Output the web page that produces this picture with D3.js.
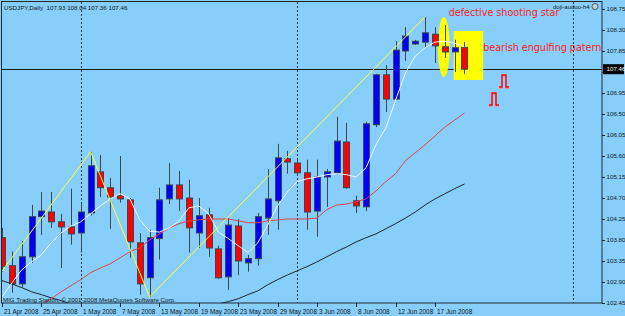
<!DOCTYPE html>
<html>
<head>
<meta charset="utf-8">
<script src="https://cdn.jsdelivr.net/npm/d3@7"></script>
<style>
  body { margin: 0; background: #87cefa; }
  svg { display: block; }
  text { font-family: "Liberation Sans", Arial, sans-serif; }
</style>
</head>
<body>
<div id="chart"></div>
<script>
// USDJPY daily candles, 21 Apr 2008 .. 20 Jun 2008 (bar index 0..47)
const opens  = [103.85,103.25,102.86,103.44,104.30,104.40,104.19,104.08,103.95,104.38,105.26,104.92,104.75,104.66,103.74,102.99,103.83,104.68,104.98,104.70,103.95,104.34,103.61,103.01,104.10,103.31,103.40,104.27,104.64,105.54,105.45,105.24,104.42,105.15,105.24,105.90,104.64,104.51,106.27,107.34,106.82,107.85,108.00,108.04,108.21,107.94,107.83,107.93];
const highs  = [104.06,103.55,103.78,104.55,104.83,104.83,104.36,104.90,104.60,105.69,105.62,105.13,105.60,104.70,103.95,104.02,104.92,105.45,105.28,105.09,104.70,104.49,103.68,104.27,104.25,103.48,104.38,105.32,105.86,105.71,105.52,105.52,105.52,105.32,106.44,106.31,104.75,106.33,107.36,107.55,108.06,108.36,108.09,108.58,108.36,108.41,108.09,108.04];
const lows   = [103.12,102.67,102.78,103.31,103.91,104.06,103.20,103.70,103.53,104.32,104.72,104.04,104.60,103.42,102.63,102.58,103.38,104.57,104.42,103.53,103.63,103.44,102.97,102.73,103.05,103.12,103.25,103.91,104.02,105.22,105.17,104.02,103.87,104.51,105.20,104.90,104.38,104.42,106.22,106.54,106.80,107.64,107.98,107.92,107.59,107.70,107.40,107.36];
const closes = [103.23,102.86,103.44,104.30,104.42,104.19,104.08,103.93,104.40,105.39,104.92,104.72,104.68,103.76,102.86,103.85,104.66,104.98,104.68,104.06,104.32,103.63,102.99,104.12,103.35,103.40,104.30,104.68,105.56,105.47,105.24,104.40,105.15,105.26,105.92,104.92,104.53,106.29,107.34,106.82,107.87,108.17,108.06,108.24,107.96,107.83,107.92,107.46];

// moving averages
const maFast = [102.58,102.88,103.16,103.33,103.48,103.74,103.95,104.10,104.19,104.36,104.53,104.68,104.79,104.68,104.23,103.99,103.97,104.06,104.21,104.49,104.53,104.36,103.97,103.83,103.68,103.53,103.74,104.12,104.53,104.83,105.05,105.11,105.15,105.20,105.22,105.20,105.15,105.35,105.84,106.20,106.80,107.38,107.74,107.92,108.04,108.06,108.02,107.94];
const maMid  = [101.90,102.03,102.16,102.28,102.41,102.54,102.69,102.82,102.95,103.10,103.20,103.29,103.42,103.55,103.63,103.80,103.93,104.06,104.15,104.21,104.23,104.25,104.25,104.25,104.21,104.17,104.17,104.21,104.23,104.25,104.25,104.25,104.27,104.45,104.55,104.57,104.62,104.68,104.85,105.05,105.22,105.50,105.67,105.84,106.03,106.22,106.37,106.52];
const maSlow = [102.93,102.86,102.78,102.69,102.63,102.56,102.50,102.43,102.37,102.33,102.28,102.26,102.24,102.22,102.22,102.22,102.24,102.26,102.28,102.31,102.35,102.39,102.43,102.48,102.54,102.63,102.71,102.84,102.95,103.05,103.14,103.23,103.33,103.44,103.55,103.65,103.76,103.85,103.93,104.04,104.15,104.27,104.40,104.55,104.68,104.79,104.90,105.00];

// zigzag turning points
const zigIdx   = [-4, 9, 15, 43];
const zigPrice = [102.00, 105.69, 102.58, 108.58];

// axes
const tickIdx    = [0, 4, 8, 12, 16, 20, 24, 28, 32, 36, 40, 44];
const tickLabels = ["21 Apr 2008","25 Apr 2008","1 May 2008","7 May 2008","13 May 2008","19 May 2008","23 May 2008","29 May 2008","3 Jun 2008","8 Jun 2008","12 Jun 2008","17 Jun 2008"];
const priceTicks = [108.75,108.30,107.85,107.40,106.95,106.50,106.05,105.60,105.15,104.70,104.25,103.80,103.35,102.90,102.45];
const separatorIdx = [8, 30, 58];
const lastPrice = 107.46;

// hand drawn objects
const noteText  = ["defective shooting star", "bearish engulfing patern"];
const noteIdx   = [45.4, 48.9];
const notePrice = [108.59, 107.85];
const arrowIdx   = [51, 50];
const arrowPrice = [107.21, 106.82];

const W = 625, H = 316;
const plotR = 602, plotB = 303;

const svg = d3.select("#chart").append("svg")
    .attr("width", W)
    .attr("height", H);

svg.append("rect").attr("width", W).attr("height", H).attr("fill", "#87cefa");

const x = d3.scaleLinear().domain([0, 47]).range([2, 2 + 9.84 * 47]);
const y = d3.scaleLinear().domain([102.45, 108.75]).range([303, 9]);

svg.append("clipPath").attr("id", "plot")
  .append("rect").attr("x", 1.5).attr("y", 1.5).attr("width", plotR - 1.5).attr("height", plotB - 1.5);

const g = svg.append("g").attr("clip-path", "url(#plot)");

// month separators
g.selectAll(".sep").data(separatorIdx).join("line")
    .attr("x1", d => Math.round(x(d)) + 0.5).attr("x2", d => Math.round(x(d)) + 0.5)
    .attr("y1", 2).attr("y2", plotB)
    .attr("stroke", "#2a3440").attr("stroke-dasharray", "2,2");

// last price line
g.append("line")
    .attr("x1", 1).attr("x2", plotR)
    .attr("y1", Math.round(y(lastPrice)) + 0.5).attr("y2", Math.round(y(lastPrice)) + 0.5)
    .attr("stroke", "#1a1a1a");

// yellow marks
g.append("ellipse")
    .attr("cx", (x(44.3) + x(45.5)) / 2).attr("cy", (y(107.29) + y(108.58)) / 2)
    .attr("rx", (x(45.5) - x(44.3)) / 2).attr("ry", (y(107.29) - y(108.58)) / 2)
    .attr("fill", "#ffff00");
g.append("rect")
    .attr("x", x(45.9)).attr("y", y(108.28))
    .attr("width", x(48.9) - x(45.9)).attr("height", y(107.23) - y(108.28))
    .attr("fill", "#ffff00");

// candles
const bars = d3.range(opens.length);
const wickColor = "#3d4650";
g.selectAll(".wick").data(bars).join("line")
    .attr("x1", i => Math.round(x(i)) + 0.5).attr("x2", i => Math.round(x(i)) + 0.5)
    .attr("y1", i => y(highs[i])).attr("y2", i => y(lows[i]))
    .attr("stroke", wickColor);
g.selectAll(".body").data(bars).join("rect")
    .attr("x", i => Math.round(x(i)) - 2.5)
    .attr("y", i => y(Math.max(opens[i], closes[i])))
    .attr("width", 6)
    .attr("height", i => Math.max(1, Math.abs(y(opens[i]) - y(closes[i]))))
    .attr("fill", i => closes[i] < opens[i] ? "#ff0000" : "#0000ff")
    .attr("stroke", wickColor);

// indicators
const line = arr => d3.line().x((d, i) => x(i)).y(d => y(d))(arr);
g.append("path").attr("d", line(maSlow)).attr("fill", "none").attr("stroke", "#1c2530");
g.append("path").attr("d", line(maMid)).attr("fill", "none").attr("stroke", "#e0404c");
g.append("path").attr("d", line(maFast)).attr("fill", "none").attr("stroke", "#f4f8ff");
g.append("path")
    .attr("d", d3.line().x((d, k) => x(zigIdx[k])).y(d => y(d))(zigPrice))
    .attr("fill", "none").attr("stroke", "#ffff30");

// red sell marks
arrowIdx.forEach((a, k) => {
  const cx = Math.round(x(a)), cy = Math.round(y(arrowPrice[k]));
  const p = `M${cx - 5},${cy + 6}H${cx - 2}V${cy - 6}H${cx + 2}V${cy + 6}H${cx + 5}`;
  g.append("path").attr("d", p).attr("transform", "translate(0,1.5)")
    .attr("fill", "none").attr("stroke", "#f09090").attr("stroke-width", 1.2);
  g.append("path").attr("d", p)
    .attr("fill", "none").attr("stroke", "#ff0000").attr("stroke-width", 1.4);
});

// notes
noteText.forEach((t, k) => {
  g.append("text").attr("x", x(noteIdx[k])).attr("y", y(notePrice[k]))
    .attr("fill", "#ff1a1a")
    .style("font-family", "'DejaVu Sans', Verdana, sans-serif")
    .style("font-size", "9.6px")
    .text(t);
});

// frame
svg.append("rect")
    .attr("x", 1.5).attr("y", 1.5).attr("width", plotR - 1.5).attr("height", plotB - 1.5)
    .attr("fill", "none").attr("stroke", "#1e2a36");

// price axis (labels hidden under the last price box are skipped, as the terminal does)
svg.selectAll(".ptick").data(priceTicks).join("line")
    .attr("x1", plotR).attr("x2", plotR + 3)
    .attr("y1", d => Math.round(y(d)) + 0.5).attr("y2", d => Math.round(y(d)) + 0.5)
    .attr("stroke", "#1e2a36");
svg.selectAll(".plabel").data(priceTicks.filter(d => Math.abs(y(d) - y(lastPrice)) > 9)).join("text")
    .attr("x", plotR + 4.5).attr("y", d => y(d) + 2.2)
    .attr("font-size", "6.2px").attr("fill", "#101820")
    .text(d => d.toFixed(2));

// last price box
svg.append("rect")
    .attr("x", plotR + 1).attr("y", y(lastPrice) - 5).attr("width", 21).attr("height", 10)
    .attr("fill", "#000");
svg.append("text")
    .attr("x", plotR + 4.5).attr("y", y(lastPrice) + 2.2)
    .attr("font-size", "6.2px").attr("fill", "#fff")
    .text(lastPrice.toFixed(2));

// time axis
svg.selectAll(".ttick").data(tickIdx).join("line")
    .attr("x1", i => Math.round(x(i)) + 0.5).attr("x2", i => Math.round(x(i)) + 0.5)
    .attr("y1", plotB).attr("y2", plotB + 4)
    .attr("stroke", "#1e2a36");
svg.selectAll(".tlabel").data(tickIdx).join("text")
    .attr("x", i => Math.round(x(i)) + 2).attr("y", plotB + 10.5)
    .attr("font-size", "6.4px").attr("fill", "#101820")
    .text((i, k) => tickLabels[k]);

// header and footer texts
svg.append("text").attr("x", 4).attr("y", 9.5)
    .attr("font-size", "6.2px").attr("fill", "#101820")
    .style("white-space", "pre")
    .text("USDJPY,Daily  107.93 108.04 107.36 107.46");
svg.append("text").attr("x", 3).attr("y", 301.5)
    .attr("font-size", "6.2px").attr("fill", "#101820")
    .text("MIG Trading Station, \u00a9 2001-2008 MetaQuotes Software Corp.");
svg.append("text").attr("x", 553).attr("y", 9)
    .attr("font-size", "6px").attr("fill", "#101820")
    .text("doji-auduo-h4");
svg.append("circle").attr("cx", 595).attr("cy", 6.5).attr("r", 3)
    .attr("fill", "#c8d0d8").attr("stroke", "#505860");
</script>
</body>
</html>
